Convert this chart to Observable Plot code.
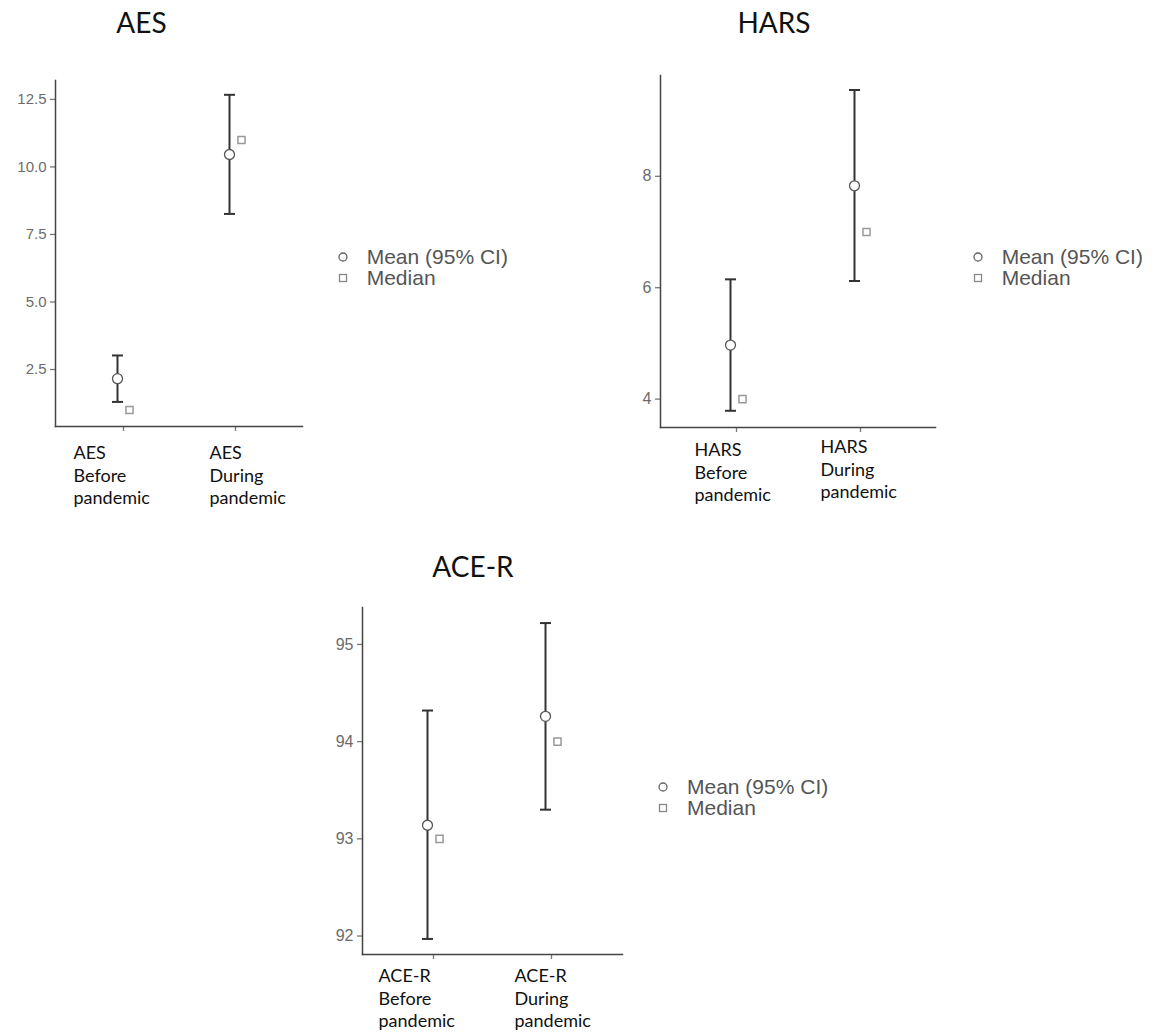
<!DOCTYPE html>
<html><head><meta charset="utf-8">
<script src="https://cdn.jsdelivr.net/npm/d3@7"></script>
<script src="https://cdn.jsdelivr.net/npm/@observablehq/plot@0.6"></script>
<style>
body{margin:0;background:#fff;}
#root{position:relative;width:1157px;height:1033px;overflow:hidden;background:#fff;}
.title{position:absolute;font-family:Lato,"Open Sans",sans-serif;font-size:28px;color:#111;transform:translateX(-50%);white-space:nowrap;line-height:1;}
.panel{position:absolute;}
.legend{position:absolute;font-family:"Liberation Sans",Arial,sans-serif;font-size:21px;color:#555;}
.legend .row{display:flex;align-items:center;height:21px;white-space:nowrap;}
.legend svg{margin-right:18px;flex:none;}
</style></head>
<body><div id="root"></div>
<script>
// ---- data ----
const groups = ["Before pandemic", "During pandemic"];
const legendLabels = ["Mean (95% CI)", "Median"];

const aesLabels = ["AES\nBefore\npandemic", "AES\nDuring\npandemic"];
const aesMean = [2.16, 10.46];
const aesLow = [1.30, 8.26];
const aesHigh = [3.02, 12.67];
const aesMedian = [1, 11];
const aesTicks = [2.5, 5.0, 7.5, 10.0, 12.5];

const harsLabels = ["HARS\nBefore\npandemic", "HARS\nDuring\npandemic"];
const harsMean = [4.97, 7.83];
const harsLow = [3.79, 6.12];
const harsHigh = [6.15, 9.55];
const harsMedian = [4, 7];
const harsTicks = [4, 6, 8];

const aceLabels = ["ACE-R\nBefore\npandemic", "ACE-R\nDuring\npandemic"];
const aceMean = [93.14, 94.26];
const aceLow = [91.97, 93.30];
const aceHigh = [94.32, 95.22];
const aceMedian = [93, 94];
const aceTicks = [92, 93, 94, 95];

// horizontal cap symbol for error bars
const capSymbol = {
  draw(ctx, size) {
    const w = Math.sqrt(size / Math.PI);
    ctx.moveTo(-w, 0); ctx.lineTo(w, 0);
  }
};

const root = document.getElementById("root");

function addTitle(text, cx, top) {
  const d = document.createElement("div");
  d.className = "title"; d.textContent = text;
  d.style.left = cx + "px"; d.style.top = top + "px";
  root.appendChild(d);
}

function addLegend(left, top) {
  const d = document.createElement("div");
  d.className = "legend"; d.style.left = left + "px"; d.style.top = top + "px";
  const syms = [
    '<svg width="12" height="12"><circle cx="6" cy="6" r="4" fill="white" stroke="#666" stroke-width="1.3"/></svg>',
    '<svg width="12" height="12"><rect x="2.5" y="2.5" width="7" height="7" fill="white" stroke="#888" stroke-width="1.3"/></svg>'
  ];
  legendLabels.forEach((t, i) => {
    const r = document.createElement("div"); r.className = "row";
    r.innerHTML = syms[i] + "<span>" + t + "</span>";
    d.appendChild(r);
  });
  root.appendChild(d);
}

function addPanel(cfg) {
  const rows = groups.map((g, i) => ({
    g, mean: cfg.mean[i], low: cfg.low[i], high: cfg.high[i], median: cfg.median[i], label: cfg.labels[i]
  }));
  const labelMarks = rows.map((r, i) => Plot.text([r], {
    x: "g", text: "label", frameAnchor: "bottom", lineAnchor: "top", textAnchor: "start",
    dx: cfg.ldx[i], dy: cfg.ldy[i], fontSize: 18, fontFamily: "Lato, 'Open Sans', sans-serif",
    lineHeight: 1.25, fill: "#111"
  }));
  const p = Plot.plot({
    width: cfg.width, height: cfg.height,
    marginLeft: cfg.ml, marginRight: cfg.mr, marginTop: cfg.mt, marginBottom: cfg.mb,
    style: {background: "transparent", overflow: "visible"},
    x: {type: "point", domain: groups, padding: 0.6, axis: null},
    y: {domain: cfg.yDomain, axis: null},
    marks: [
      Plot.axisY({ticks: cfg.ticks, tickFormat: cfg.fmt, tickSize: 5, tickPadding: 4, label: null,
        stroke: "#777", fill: "#6b6b6b", fontSize: cfg.tfs, fontFamily: "'Liberation Sans', Arial, sans-serif", strokeWidth: 1.3}),
      Plot.axisX({tickFormat: () => "", tickSize: 5, label: null, stroke: "#777", strokeWidth: 1.3}),
      Plot.frame({anchor: "left", stroke: "#444", strokeWidth: 1.5}),
      Plot.frame({anchor: "bottom", stroke: "#444", strokeWidth: 1.5}),
      Plot.ruleX(rows, {x: "g", y1: "low", y2: "high", dx: -6, stroke: "#333", strokeWidth: 2}),
      Plot.dot(rows, {x: "g", y: "low", dx: -6, symbol: capSymbol, r: 5.5, fill: "none", stroke: "#333", strokeWidth: 2}),
      Plot.dot(rows, {x: "g", y: "high", dx: -6, symbol: capSymbol, r: 5.5, fill: "none", stroke: "#333", strokeWidth: 2}),
      Plot.dot(rows, {x: "g", y: "mean", dx: -6, r: 5, fill: "white", stroke: "#555", strokeWidth: 1.3}),
      Plot.dot(rows, {x: "g", y: "median", dx: 6, symbol: "square", r: 4, fill: "white", stroke: "#999", strokeWidth: 1.5}),
      ...labelMarks
    ]
  });
  const wrap = document.createElement("div");
  wrap.className = "panel"; wrap.style.left = cfg.left + "px"; wrap.style.top = cfg.top + "px";
  wrap.appendChild(p);
  root.appendChild(wrap);
}

addPanel({left: 0, top: 60, width: 320, height: 470, ml: 55, mr: 18, mt: 20, mb: 104,
  yDomain: [0.39, 13.2], ticks: aesTicks, fmt: d3.format(".1f"), tfs: 15,
  mean: aesMean, low: aesLow, high: aesHigh, median: aesMedian, labels: aesLabels,
  ldx: [-50, -26], ldy: [17, 17]});

addPanel({left: 600, top: 60, width: 350, height: 470, ml: 60, mr: 15, mt: 15, mb: 103,
  yDomain: [3.49, 9.81], ticks: harsTicks, fmt: d3.format("d"), tfs: 16,
  mean: harsMean, low: harsLow, high: harsHigh, median: harsMedian, labels: harsLabels,
  ldx: [-42, -40], ldy: [13, 10]});

addPanel({left: 300, top: 580, width: 340, height: 453, ml: 62, mr: 18, mt: 27, mb: 79,
  yDomain: [91.81, 95.38], ticks: aceTicks, fmt: d3.format("d"), tfs: 16,
  mean: aceMean, low: aceLow, high: aceHigh, median: aceMedian, labels: aceLabels,
  ldx: [-55, -37], ldy: [12, 12]});

addTitle("AES", 141.5, 7.5);
addTitle("HARS", 774, 8);
addTitle("ACE-R", 473, 552);

addLegend(336.7, 246);
addLegend(971.7, 246);
addLegend(657, 776);
</script>
</body></html>
